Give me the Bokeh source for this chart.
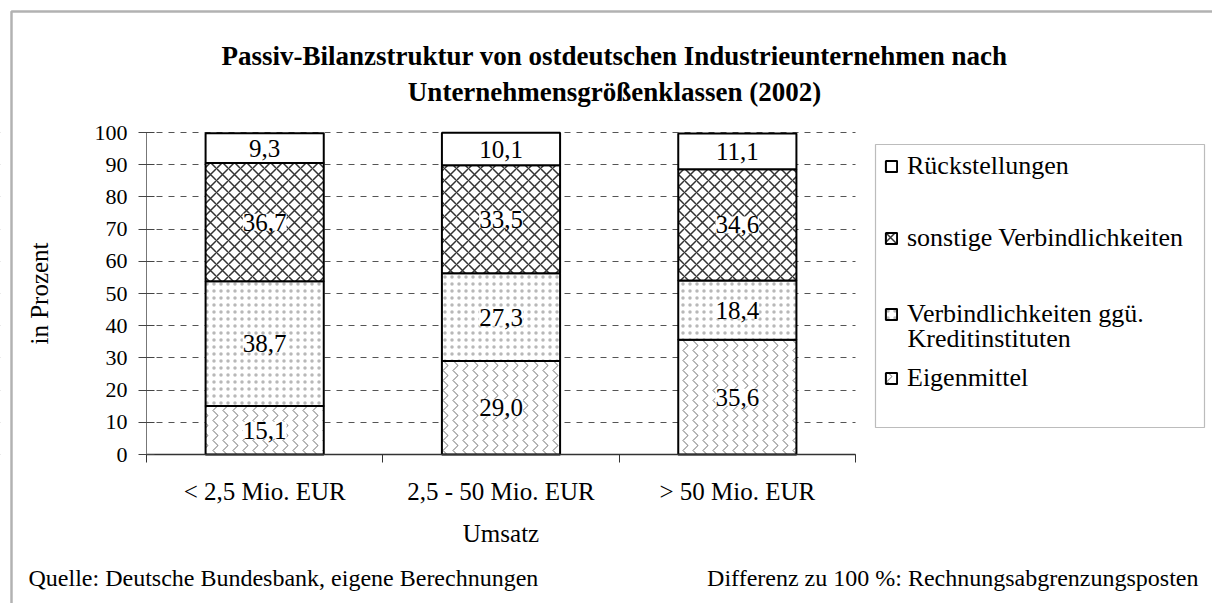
import numpy as np
from bokeh.plotting import figure
from bokeh.models import (Range1d, LinearAxis, FixedTicker, Grid, ColumnDataSource, LabelSet,
                          Label, BoxAnnotation, Legend, LegendItem)
from bokeh.core.properties import value
from bokeh.embed import file_html
from bokeh.resources import INLINE

# ---------------- data ----------------
categories = ["< 2,5 Mio. EUR", "2,5 - 50 Mio. EUR", "> 50 Mio. EUR"]
eigenmittel = [15.1, 29.0, 35.6]
verb_kredit = [38.7, 27.3, 18.4]
sonstige_verb = [36.7, 33.5, 34.6]
rueckstellungen = [9.3, 10.1, 11.1]
series_names = ["Eigenmittel", "Verbindlichkeiten ggü. Kreditinstituten",
                "sonstige Verbindlichkeiten", "Rückstellungen"]
y_ticks = [0, 10, 20, 30, 40, 50, 60, 70, 80, 90, 100]
title_lines = ["Passiv-Bilanzstruktur von ostdeutschen Industrieunternehmen nach",
               "Unternehmensgrößenklassen (2002)"]
y_label = "in Prozent"
x_label = "Umsatz"
source_note = "Quelle: Deutsche Bundesbank, eigene Berechnungen"
diff_note = "Differenz zu 100 %: Rechnungsabgrenzungsposten"

FONT = "Liberation Serif"

# ---------------- layout (pixel geometry of the plot area) ----------------
W, H = 1212, 603
PX0, PX1 = 146, 855     # x pixel of first / last category boundary
PY0, PY1 = 454, 132     # y pixel of 0 % / 100 %
NCAT = len(categories)


def fx(px):
    return (px - PX0) / (PX1 - PX0) * NCAT


def fy(py):
    return (PY0 - py) / (PY0 - PY1) * 100


p = figure(width=W, height=H, x_range=Range1d(fx(0), fx(W)), y_range=Range1d(fy(H), fy(0)),
           x_axis_type=None, y_axis_type=None, tools="", toolbar_location=None,
           output_backend="svg", min_border=0,
           min_border_left=0, min_border_right=0, min_border_top=0, min_border_bottom=0)
p.background_fill_color = "white"
p.border_fill_color = "white"
p.outline_line_color = None

# ---------------- axes ----------------
y_ticker = FixedTicker(ticks=y_ticks)
yaxis = LinearAxis(ticker=y_ticker, fixed_location=0, bounds=(0, 100))
yaxis.major_tick_in = 8
yaxis.major_tick_out = 8
yaxis.minor_tick_in = 0
yaxis.minor_tick_out = 0
yaxis.axis_line_color = "#777777"
yaxis.major_tick_line_color = "#444444"
yaxis.major_label_text_font = FONT
yaxis.major_label_text_font_size = "22px"
yaxis.major_label_text_color = "black"
yaxis.major_label_standoff = 11
yaxis.axis_label = y_label
yaxis.axis_label_text_font = FONT
yaxis.axis_label_text_font_size = "25px"
yaxis.axis_label_text_font_style = "normal"
yaxis.axis_label_text_color = "black"
yaxis.axis_label_standoff = 39
p.add_layout(yaxis, "left")

centers = [i + 0.5 for i in range(NCAT)]
x_ticker = FixedTicker(ticks=centers, minor_ticks=list(range(NCAT + 1)))
xaxis = LinearAxis(ticker=x_ticker, fixed_location=0, bounds=(0, NCAT))
xaxis.major_label_overrides = {c: lab for c, lab in zip(centers, categories)}
xaxis.major_tick_in = 0
xaxis.major_tick_out = 0
xaxis.minor_tick_in = 0
xaxis.minor_tick_out = 8
xaxis.minor_tick_line_color = "#333333"
xaxis.axis_line_color = "#333333"
xaxis.axis_line_width = 1.3
xaxis.major_label_text_font = FONT
xaxis.major_label_text_font_size = "25px"
xaxis.major_label_text_color = "black"
xaxis.major_label_standoff = 15
xaxis.axis_label = x_label
xaxis.axis_label_text_font = FONT
xaxis.axis_label_text_font_size = "25px"
xaxis.axis_label_text_font_style = "normal"
xaxis.axis_label_text_color = "black"
xaxis.axis_label_standoff = 12
p.add_layout(xaxis, "below")

grid = Grid(dimension=1, ticker=y_ticker, grid_line_color="#555555",
            grid_line_dash="6 6", grid_line_width=1)
p.add_layout(grid, "center")
# gridlines only across the category area
p.add_layout(BoxAnnotation(left=fx(-20), right=0, top=fy(-20), bottom=fy(H + 20), level="underlay",
                           fill_color="white", fill_alpha=1, line_alpha=0))
p.add_layout(BoxAnnotation(left=NCAT, right=fx(W + 20), top=fy(-20), bottom=fy(H + 20),
                           level="underlay", fill_color="white", fill_alpha=1, line_alpha=0))

# ---------------- stacked bars ----------------
styles = [
    dict(hatch_pattern="vertical_wave", hatch_scale=10, hatch_weight=0.9, hatch_color="#333333",
         hatch_alpha=0.8),
    dict(hatch_pattern="dot", hatch_scale=7, hatch_color="black", hatch_alpha=0.28),
    dict(hatch_pattern="diagonal_cross", hatch_scale=12, hatch_color="#333333", hatch_weight=1.5),
    dict(),
]

layers = [eigenmittel, verb_kredit, sonstige_verb, rueckstellungen]
xs = np.array(centers)
bottoms = np.zeros(NCAT)
renderers = []
for vals, style in zip(layers, styles):
    vals = np.array(vals)
    tops = bottoms + vals
    src = ColumnDataSource(dict(x=xs, bottom=bottoms, top=tops, mid=(bottoms + tops) / 2,
                                lab=[f"{v:.1f}".replace(".", ",") for v in vals]))
    r = p.vbar(x="x", bottom="bottom", top="top", width=0.5, source=src,
               fill_color="white", line_color="black", line_width=2, **style)
    renderers.append(r)
    ls = LabelSet(x="x", y="mid", text="lab", source=src, text_align="center",
                  text_baseline="middle", text_font=value(FONT), text_font_size=value("25px"),
                  text_color="black", background_fill_color="white")
    p.add_layout(ls)
    bottoms = tops

# ---------------- legend ----------------
LEG_FS = 26
p.add_layout(BoxAnnotation(left=fx(875), right=fx(1204), top=fy(144), bottom=fy(427),
                           fill_alpha=0, fill_color=None, line_color="#222222", line_width=1.2))
legend_rows = [(3, series_names[3], 165), (2, series_names[2], 237),
               (1, "Verbindlichkeiten ggü.", 313), (0, series_names[0], 377)]
for idx, lab, yc in legend_rows:
    leg = Legend(items=[LegendItem(label=value(lab), renderers=[renderers[idx]])],
                 location=(884, H - yc - round(0.6 * LEG_FS)),
                 padding=0, margin=0, spacing=0, border_line_alpha=0, background_fill_alpha=0,
                 glyph_width=14, glyph_height=14, label_standoff=9, label_height=20,
                 label_text_font=FONT, label_text_font_size=f"{LEG_FS}px", label_text_color="black",
                 label_text_baseline="middle")
    p.add_layout(leg)
p.add_layout(Label(x=fx(907), y=fy(338), text="Kreditinstituten", text_font=FONT,
                   text_font_size=f"{LEG_FS}px", text_color="black",
                   text_baseline="middle", text_align="left"))

# ---------------- titles & notes ----------------
for line, yc in zip(title_lines, [55, 91]):
    p.add_layout(Label(x=fx(614), y=fy(yc), text=line, text_font=FONT, text_font_size="27px",
                       text_font_style="bold", text_color="black",
                       text_align="center", text_baseline="middle"))

p.add_layout(Label(x=fx(28), y=fy(577), text=source_note, text_font=FONT, text_font_size="24px",
                   text_color="black", text_align="left", text_baseline="middle"))
p.add_layout(Label(x=fx(1198), y=fy(577), text=diff_note, text_font=FONT, text_font_size="24px",
                   text_color="black", text_align="right", text_baseline="middle"))

# outer chart border
p.add_layout(BoxAnnotation(left=fx(11), right=fx(1400), top=fy(11), bottom=fy(800),
                           fill_alpha=0, fill_color=None, line_color="black", line_width=2.5))

open("out.html", "w").write(file_html(p, INLINE))
